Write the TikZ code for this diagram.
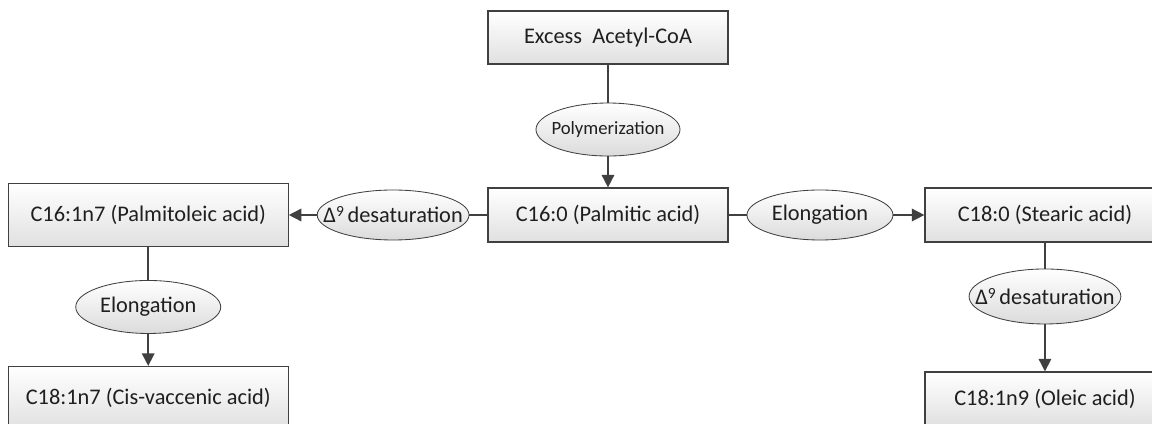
\documentclass[tikz,border=0pt]{standalone}
\usepackage{fontspec}
\setmainfont{Carlito}
\usetikzlibrary{positioning}
\usetikzlibrary{arrows.meta}
\usetikzlibrary{shapes.geometric}

\definecolor{linegray}{HTML}{404040}
\definecolor{textgray}{HTML}{1F1F1F}

\newcommand{\dnine}{Δ\raisebox{0.55ex}{\fontsize{11}{12}\selectfont 9}\,desaturation}

\tikzset{
    acid/.style={draw=linegray, line width=0.8pt, rectangle, top color=white, bottom color=black!12,
        text=textgray, font=\fontsize{15.9}{18}\selectfont, inner sep=0pt},
    enzyme/.style={draw=linegray, line width=0.6pt, ellipse, top color=white, bottom color=black!14,
        text=textgray, font=\fontsize{15.9}{18}\selectfont, inner xsep=-0.4cm, inner ysep=0pt},
    link/.style={draw=linegray, line width=1.1pt},
    flow/.style={link, -{Triangle[length=9pt,width=9pt]}}
}

\begin{document}
\begin{tikzpicture}
    \useasboundingbox (-15.2,5.375) rectangle (13.6,-5.225);
    \node[acid, minimum width=6cm, minimum height=1.35cm] (pal) {C16:0 (Palmitic acid)};
    \node[enzyme, above = 0.775cm of pal, minimum width=3.6cm, minimum height=1.325cm,
        font=\fontsize{13.3}{16}\selectfont] (poly) {Polymerization};
    \node[acid, above = 0.95cm of poly, minimum width=6cm, minimum height=1.325cm] (ace) {Excess\ \ Acetyl-CoA};
    \node[enzyme, left = 0.45cm of pal, minimum width=3.75cm, minimum height=1.25cm] (desl) {\dnine};
    \node[acid, left = 0.7cm of desl, minimum width=7cm, minimum height=1.575cm] (palm) {C16:1n7 (Palmitoleic acid)};
    \node[enzyme, below = 0.825cm of palm, minimum width=3.625cm, minimum height=1.325cm] (elol) {Elongation};
    \node[acid, below = 0.8cm of elol, minimum width=7cm, minimum height=1.575cm] (vac) {C18:1n7 (Cis-vaccenic acid)};
    \node[enzyme, right = 0.45cm of pal, minimum width=3.65cm, minimum height=1.25cm] (elor) {Elongation};
    \node[acid, right = 0.775cm of elor, minimum width=6cm, minimum height=1.35cm] (ste) {C18:0 (Stearic acid)};
    \node[enzyme, below = 0.65cm of ste, minimum width=3.65cm, minimum height=1.375cm] (desr) {\dnine};
    \node[acid, below = 1.175cm of desr, minimum width=6cm, minimum height=1.35cm] (ole) {C18:1n9 (Oleic acid)};
    \path[link] (ace.south) -- (poly.north);
    \path[flow] (poly.south) -- (pal.north);
    \path[link] (pal.west) -- (desl.east);
    \path[flow] (desl.west) -- (palm.east);
    \path[link] (palm.south) -- (elol.north);
    \path[flow] (elol.south) -- (vac.north);
    \path[link] (pal.east) -- (elor.west);
    \path[flow] (elor.east) -- (ste.west);
    \path[link] (ste.south) -- (desr.north);
    \path[flow] (desr.south) -- (ole.north);
\end{tikzpicture}
\end{document}
